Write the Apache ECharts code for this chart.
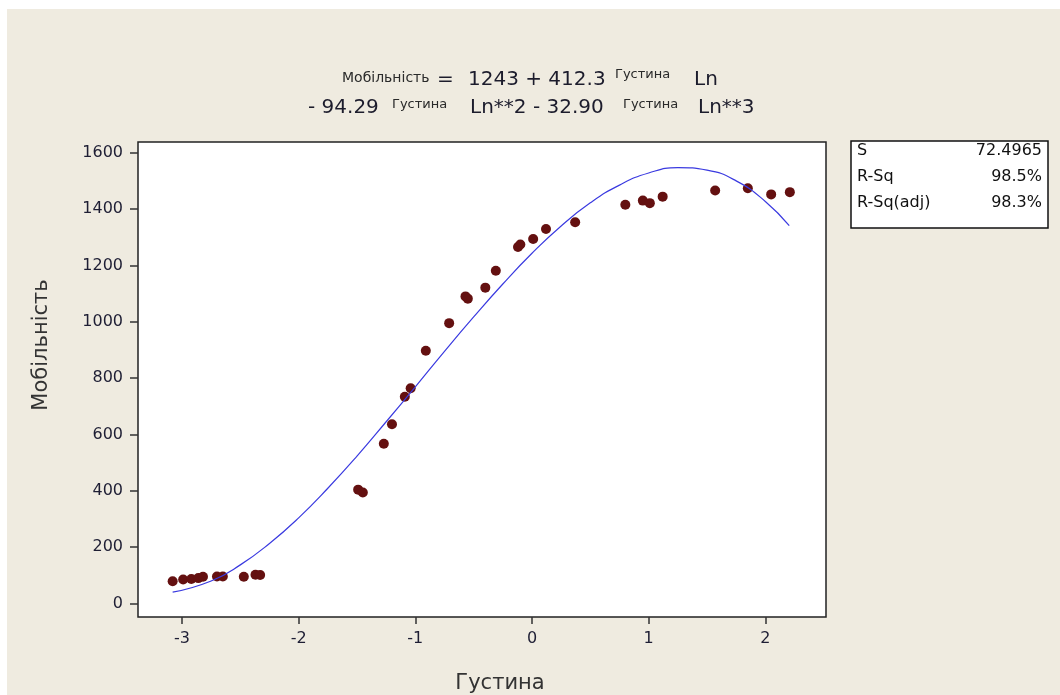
<!DOCTYPE html>
<html>
<head>
<meta charset="utf-8">
<script src="https://cdn.jsdelivr.net/npm/echarts@6/dist/echarts.min.js"></script>
<style>
html,body{margin:0;padding:0;background:#ffffff;}
#chart{width:1060px;height:695px;}
</style>
</head>
<body>
<div id="chart"></div>
<script>
// Observed data points (Густина Ln, Мобільність)
const pointX = [-3.08, -2.99, -2.92, -2.86, -2.82, -2.70, -2.65, -2.47, -2.37, -2.33,
  -1.49, -1.45, -1.27, -1.20, -1.09, -1.04, -0.91, -0.71, -0.57, -0.55, -0.40, -0.31,
  -0.12, -0.10, 0.01, 0.12, 0.37, 0.80, 0.95, 1.01, 1.12, 1.57, 1.85, 2.05, 2.21];
const pointY = [79, 85, 87, 90, 95, 96, 96, 95, 102, 101,
  404, 394, 567, 636, 734, 764, 897, 995, 1090, 1082, 1121, 1181,
  1265, 1274, 1294, 1329, 1353, 1415, 1430, 1421, 1444, 1466, 1474, 1452, 1460];

// Fitted curve
const fitX = [-3.08, -2.75, -2.5, -2.25, -2, -1.75, -1.5, -1.25, -1, -0.75, -0.5, -0.25,
  0, 0.25, 0.5, 0.75, 1, 1.25, 1.5, 1.75, 2, 2.205];
const fitY = [40, 80, 137, 213, 304, 409, 523, 645, 769, 895, 1017, 1134,
  1243, 1340, 1422, 1485, 1528, 1547, 1538, 1500, 1427, 1341];

const xTicks = [-3, -2, -1, 0, 1, 2];
const yTicks = [0, 200, 400, 600, 800, 1000, 1200, 1400, 1600];

const statLabels = ['S', 'R-Sq', 'R-Sq(adj)'];
const statValues = ['72.4965', '98.5%', '98.3%'];

const xName = 'Густина';
const yName = 'Мобільність';

const FONT = '"DejaVu Sans", Verdana, sans-serif';
const chart = echarts.init(document.getElementById('chart'));

function txt(x, y, text, size, color, align) {
  return { type: 'text', x: x, y: y, z: 10,
    style: { text: text, fontSize: size, fontFamily: FONT, fill: color,
      textAlign: align || 'left', textVerticalAlign: 'middle' } };
}

const graphics = [
  { type: 'rect', shape: { x: 0, y: 0, width: 1060, height: 9 }, style: { fill: '#ffffff' }, z: 0 },
  { type: 'rect', shape: { x: 0, y: 0, width: 7, height: 695 }, style: { fill: '#ffffff' }, z: 0 },
  // equation line 1
  txt(342, 78, 'Мобільність', 14, '#2a2a2a'),
  txt(437, 80, '=', 20, '#1c1c2c'),
  txt(468, 80, '1243 + 412.3', 20, '#1c1c2c'),
  txt(615, 75, xName, 13, '#2a2a2a'),
  txt(694, 80, 'Ln', 20, '#1c1c2c'),
  // equation line 2
  txt(308, 108, '- 94.29', 20, '#1c1c2c'),
  txt(392, 105, xName, 13, '#2a2a2a'),
  txt(470, 108, 'Ln**2 - 32.90', 20, '#1c1c2c'),
  txt(623, 105, xName, 13, '#2a2a2a'),
  txt(698, 108, 'Ln**3', 20, '#1c1c2c'),
  // stats box
  { type: 'rect', shape: { x: 851, y: 141, width: 197, height: 87 },
    style: { fill: '#ffffff', stroke: '#111', lineWidth: 1.5 }, z: 5 },
  // axis names
  txt(500, 684, xName, 21, '#333333', 'center'),
  { type: 'text', x: 42, y: 345, rotation: Math.PI / 2, z: 10,
    style: { text: yName, fontSize: 21, fontFamily: FONT, fill: '#333333',
      textAlign: 'center', textVerticalAlign: 'middle' } }
];
statLabels.forEach(function (s, i) {
  graphics.push(txt(857, 151 + i * 26, s, 16, '#111'));
  graphics.push(txt(1042, 151 + i * 26, statValues[i], 16, '#111', 'right'));
});

chart.setOption({
  backgroundColor: '#efebe0',
  animation: false,
  grid: { left: 138, top: 142, width: 688, height: 475, show: true,
    backgroundColor: '#ffffff', borderColor: '#222', borderWidth: 1.5 },
  xAxis: {
    type: 'value', min: -3.377, max: 2.52, position: 'bottom',
    axisLine: { show: false, onZero: false },
    splitLine: { show: false },
    axisTick: { show: true, length: 7, customValues: xTicks, lineStyle: { color: '#333', width: 1.5 } },
    axisLabel: { customValues: xTicks, margin: 14, fontSize: 16, fontFamily: FONT, color: '#1e1e34',
      formatter: function (v) { return String(v); } }
  },
  yAxis: {
    type: 'value', min: -48, max: 1638, position: 'left',
    axisLine: { show: false, onZero: false },
    splitLine: { show: false },
    axisTick: { show: true, length: 8, customValues: yTicks, lineStyle: { color: '#333', width: 1.5 } },
    axisLabel: { customValues: yTicks, margin: 15, fontSize: 16, fontFamily: FONT, color: '#1e1e34',
      formatter: function (v) { return String(v); } }
  },
  graphic: graphics,
  series: [
    {
      type: 'scatter', symbolSize: 10, z: 3,
      itemStyle: { color: '#641010', opacity: 1 },
      data: pointX.map(function (x, i) { return [x, pointY[i]]; })
    },
    {
      type: 'line', smooth: true, showSymbol: false, z: 4,
      lineStyle: { color: '#3a3ae0', width: 1.2 },
      data: fitX.map(function (x, i) { return [x, fitY[i]]; })
    }
  ]
});
</script>
</body>
</html>
